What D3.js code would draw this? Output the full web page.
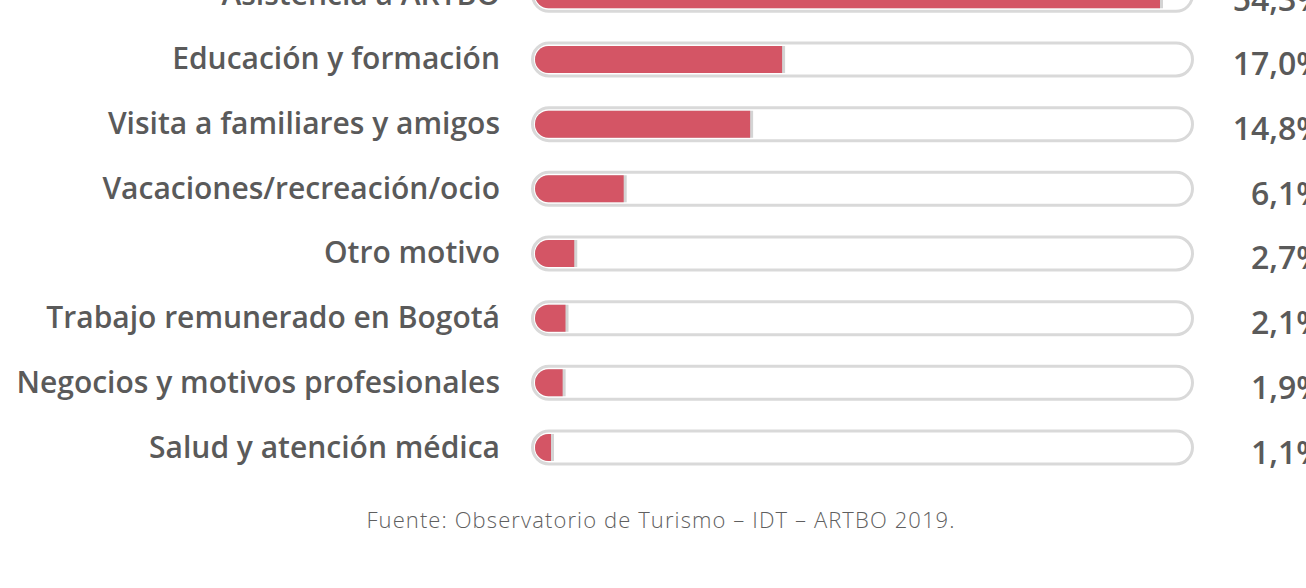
<!DOCTYPE html>
<html>
<head>
<meta charset="utf-8">
<script src="https://cdn.jsdelivr.net/npm/d3@7"></script>
<style>
    body { margin: 0; background: #fff; }
    svg { display: block; font-family: "Open Sans", sans-serif; }
</style>
</head>
<body>
<div id="chart"></div>
<script>
// motivos de viaje, en orden
const CATEGORIES = [
    "Asistencia a ARTBO",
    "Educación y formación",
    "Visita a familiares y amigos",
    "Vacaciones/recreación/ocio",
    "Otro motivo",
    "Trabajo remunerado en Bogotá",
    "Negocios y motivos profesionales",
    "Salud y atención médica"
];
const VALUES = [54.3, 17.0, 14.8, 6.1, 2.7, 2.1, 1.9, 1.1];
const VALUE_LABELS = ["54,3%", "17,0%", "14,8%", "6,1%", "2,7%", "2,1%", "1,9%", "1,1%"];
const SOURCE_TEXT = "Fuente: Observatorio de Turismo – IDT – ARTBO 2019.";

const WIDTH = 1306, HEIGHT = 588;
const TRACK = { left: 531, right: 1194, height: 33 };
const BAR_H = 27;
const RED = "#d45565";

const SVG = d3.select("#chart").append("svg")
    .attr("width", WIDTH)
    .attr("height", HEIGHT);

const y = d3.scalePoint()
    .domain(CATEGORIES)
    .range([-5.2, 447.5]);

// el gráfico original no es del todo proporcional; escala lineal recortada al carril
const x = d3.scaleLinear()
    .domain([0, 43])
    .range([TRACK.left + 4, TRACK.left + 4 + 625])
    .clamp(true);

const rows = SVG.append("g")
    .selectAll("g")
    .data(CATEGORIES.map((c, i) => ({ cat: c, value: VALUES[i], label: VALUE_LABELS[i] })))
    .enter()
    .append("g")
    .attr("transform", d => "translate(0," + y(d.cat) + ")");

// carril
rows.append("rect")
    .attr("x", TRACK.left + 1.5)
    .attr("y", -TRACK.height / 2)
    .attr("width", TRACK.right - TRACK.left - 3)
    .attr("height", TRACK.height)
    .attr("rx", TRACK.height / 2)
    .attr("fill", "#fff")
    .attr("stroke", "#d9d9d9")
    .attr("stroke-width", 3);

// barra: extremo izquierdo redondeado, derecho recto con sombra
function barPath(d, extra) {
    const x0 = x(0), x1 = x(d.value) + extra;
    const r = BAR_H / 2;
    const h = BAR_H / 2;
    if (x1 - x0 <= r) {
        return "M" + x1 + "," + (-h) + "A" + r + "," + r + " 0 0 0 " + x1 + "," + h + "Z";
    }
    return "M" + x1 + "," + (-h) +
        "L" + (x0 + r) + "," + (-h) +
        "A" + r + "," + r + " 0 0 0 " + (x0 + r) + "," + h +
        "L" + x1 + "," + h + "Z";
}

rows.append("path")
    .attr("d", d => barPath(d, 3))
    .attr("fill", "#d4d4d4");

rows.append("path")
    .attr("d", d => barPath(d, 0))
    .attr("fill", RED);

rows.append("text")
    .attr("x", 500)
    .attr("y", 10)
    .attr("text-anchor", "end")
    .attr("font-size", 30)
    .attr("font-weight", 600)
    .attr("fill", "#5a5a5a")
    .text(d => d.cat);

rows.append("text")
    .attr("x", 1324)
    .attr("y", 16)
    .attr("text-anchor", "end")
    .attr("font-size", 32)
    .attr("font-weight", 600)
    .attr("fill", "#5a5a5a")
    .text(d => d.label);

SVG.append("text")
    .attr("x", 661)
    .attr("y", 528)
    .attr("text-anchor", "middle")
    .attr("font-size", 22)
    .attr("font-weight", 300)
    .attr("letter-spacing", 1.1)
    .attr("fill", "#5f5f5f")
    .text(SOURCE_TEXT);
</script>
</body>
</html>
